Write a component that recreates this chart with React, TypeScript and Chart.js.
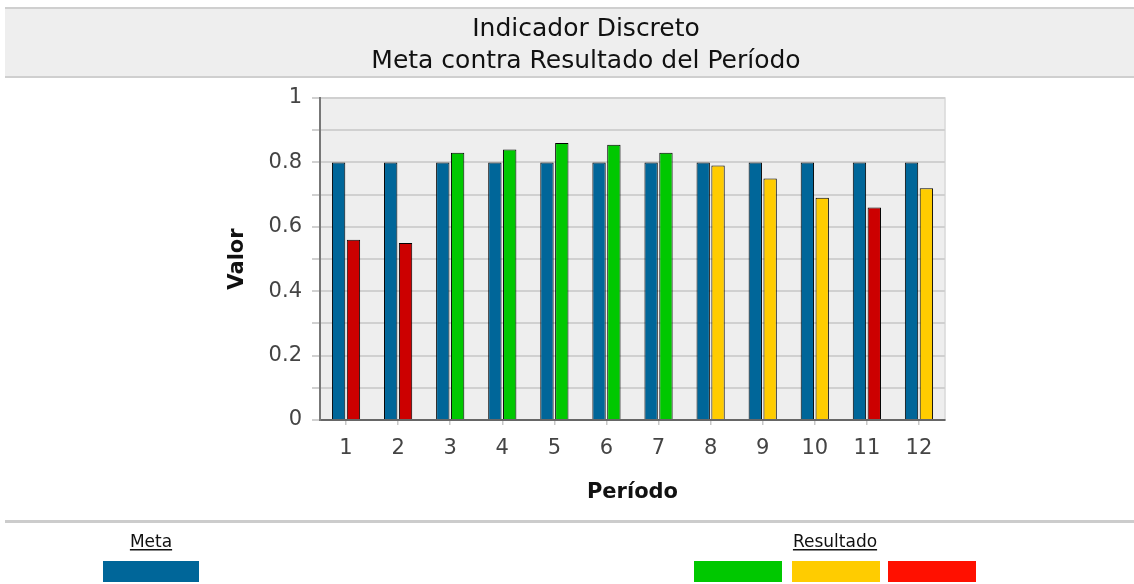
import React, { useEffect, useRef } from 'react';
import { Chart, registerables } from 'chart.js';

Chart.register(...registerables);

const titleLines = ['Indicador Discreto', 'Meta contra Resultado del Período'];
const periods = ['1', '2', '3', '4', '5', '6', '7', '8', '9', '10', '11', '12'];
const metaValues = [0.8, 0.8, 0.8, 0.8, 0.8, 0.8, 0.8, 0.8, 0.8, 0.8, 0.8, 0.8];
const resultValues = [0.56, 0.55, 0.83, 0.84, 0.86, 0.855, 0.83, 0.79, 0.75, 0.69, 0.66, 0.72];
const resultStatus = ['red', 'red', 'green', 'green', 'green', 'green', 'green', 'yellow', 'yellow', 'yellow', 'red', 'yellow'];
const statusColors: Record<string, string> = { green: '#00c800', yellow: '#ffcc00', red: '#cc0000' };
const metaColor = '#006699';
const legendMetaLabel = 'Meta';
const legendResultLabel = 'Resultado';
const legendResultColors = ['#00c800', '#ffcc00', '#ff1000'];
const yAxisTitle = 'Valor';
const xAxisTitle = 'Período';

const FONT = '"DejaVu Sans", sans-serif';

const decorPlugin = {
  id: 'decor',
  beforeDraw(chart: any) {
    const { ctx, chartArea: a, width } = chart;
    ctx.save();
    ctx.fillStyle = '#eeeeee';
    ctx.fillRect(5, 8, width - 5, 70);
    ctx.fillStyle = '#cfcfcf';
    ctx.fillRect(5, 7, width - 5, 2);
    ctx.fillRect(5, 76, width - 5, 2);
    ctx.fillStyle = '#eeeeee';
    ctx.fillRect(a.left, a.top, a.right - a.left, a.bottom - a.top);
    ctx.strokeStyle = '#d8d8d8';
    ctx.lineWidth = 1.5;
    ctx.strokeRect(a.left, a.top, a.right - a.left, a.bottom - a.top);
    ctx.restore();
  },
  afterDraw(chart: any) {
    const { ctx, width } = chart;
    ctx.save();
    ctx.fillStyle = '#cccccc';
    ctx.fillRect(5, 520, width - 5, 3);
    ctx.font = '17px ' + FONT;
    ctx.fillStyle = '#111111';
    ctx.textAlign = 'center';
    ctx.textBaseline = 'alphabetic';
    const drawLabel = (text: string, cx: number) => {
      ctx.fillText(text, cx, 547);
      const w = ctx.measureText(text).width;
      ctx.fillRect(cx - w / 2, 549, w, 1.5);
    };
    drawLabel(legendMetaLabel, 151);
    drawLabel(legendResultLabel, 835);
    ctx.fillStyle = metaColor;
    ctx.fillRect(103, 561, 96, 21);
    const starts = [694, 792, 888];
    legendResultColors.forEach((c, i) => {
      ctx.fillStyle = c;
      ctx.fillRect(starts[i], 561, 88, 21);
    });
    ctx.restore();
  },
};

export default function App() {
  const ref = useRef<HTMLCanvasElement>(null);
  useEffect(() => {
    if (!ref.current) return;
    const chart = new Chart(ref.current, {
      type: 'bar',
      data: {
        labels: periods,
        datasets: [
          {
            label: legendMetaLabel,
            data: metaValues,
            backgroundColor: metaColor,
            borderColor: '#000000',
            borderWidth: 1,
            categoryPercentage: 0.57,
            barPercentage: 0.9,
          },
          {
            label: legendResultLabel,
            data: resultValues,
            backgroundColor: resultStatus.map((s) => statusColors[s]),
            borderColor: '#000000',
            borderWidth: 1,
            categoryPercentage: 0.57,
            barPercentage: 0.9,
          },
        ],
      },
      options: {
        responsive: false,
        animation: false,
        devicePixelRatio: 1,
        layout: { padding: { left: 227, right: 189, top: 0, bottom: 0 } },
        plugins: {
          legend: { display: false },
          tooltip: { enabled: false },
          title: {
            display: true,
            text: titleLines,
            color: '#111111',
            font: { size: 25, family: FONT, weight: 'normal', lineHeight: 32 / 25 },
            padding: { top: 13, bottom: 21 },
          },
        },
        scales: {
          x: {
            afterFit: (s: any) => {
              s.height = 164;
            },
            grid: {
              display: true,
              drawOnChartArea: false,
              drawTicks: true,
              tickLength: 5,
              offset: false,
              color: '#c8c8c8',
              lineWidth: 1.5,
            },
            border: { display: true, color: '#666666', width: 2 },
            ticks: { color: '#444444', font: { size: 21, family: FONT }, padding: 11 },
            title: {
              display: true,
              text: xAxisTitle,
              color: '#111111',
              font: { size: 21, family: FONT, weight: 'bold' },
              padding: { top: 0, bottom: 79 },
            },
          },
          y: {
            min: 0,
            max: 1,
            afterFit: (s: any) => {
              s.width = 93;
            },
            grid: { color: '#d0d0d0', lineWidth: 2, tickLength: 8 },
            border: { display: true, color: '#777777', width: 2 },
            ticks: {
              stepSize: 0.1,
              padding: 10,
              color: '#444444',
              font: { size: 21, family: FONT },
              callback: (v: any) => {
                const t = Math.round(Number(v) * 10);
                return t % 2 === 0 ? String(t / 10) : '';
              },
            },
            title: {
              display: true,
              text: yAxisTitle,
              color: '#111111',
              font: { size: 21, family: FONT, weight: 'bold', lineHeight: 1 },
              padding: { top: 0, bottom: 0 },
            },
          },
        },
      },
      plugins: [decorPlugin],
    } as any);
    return () => chart.destroy();
  }, []);
  return (
    <div style={{ position: 'absolute', left: 0, top: 0, width: 1134, height: 584 }}>
      <canvas ref={ref} width={1134} height={584} style={{ display: 'block' }} />
    </div>
  );
}
